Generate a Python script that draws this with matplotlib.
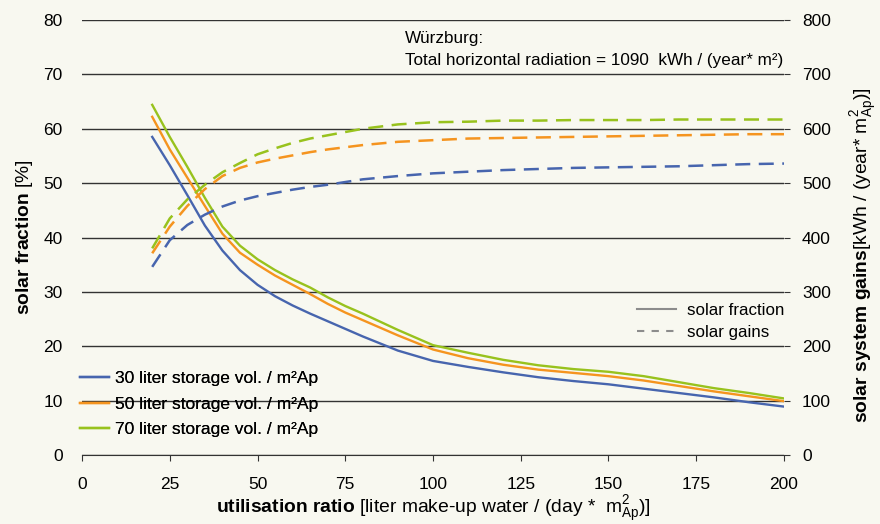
import numpy as np
import matplotlib.pyplot as plt
from matplotlib.lines import Line2D

plt.rcParams['font.family'] = ['Liberation Sans', 'DejaVu Sans']
plt.rcParams['mathtext.fontset'] = 'custom'
plt.rcParams['mathtext.rm'] = 'Liberation Sans'
plt.rcParams['mathtext.bf'] = 'Liberation Sans:bold'
plt.rcParams['mathtext.it'] = 'Liberation Sans:italic'

# utilisation ratio [l/(day m2)]
x = [20, 25, 30, 35, 40, 45, 50, 55, 60, 65, 70, 75, 80, 90, 100,
     110, 120, 130, 140, 150, 160, 170, 180, 190, 200]

# solar fraction [%]
frac_30 = [58.5, 53.3, 47.8, 42.2, 37.6, 34.0, 31.3, 29.2, 27.5, 26.0, 24.6, 23.2, 21.8, 19.2, 17.3,
           16.2, 15.2, 14.3, 13.6, 13.0, 12.2, 11.4, 10.6, 9.7, 8.9]
frac_50 = [62.2, 56.2, 51.0, 45.8, 40.7, 37.2, 35.0, 33.0, 31.3, 29.6, 27.8, 26.2, 24.8, 22.0, 19.4,
           17.8, 16.6, 15.7, 15.1, 14.5, 13.7, 12.7, 11.7, 10.8, 9.9]
frac_70 = [64.4, 58.5, 53.0, 47.3, 42.0, 38.5, 36.0, 34.0, 32.3, 30.8, 29.0, 27.4, 26.0, 23.0, 20.2,
           18.8, 17.5, 16.5, 15.8, 15.3, 14.5, 13.4, 12.3, 11.4, 10.4]

# solar system gains [kWh/(year m2)]
gain_30 = [346, 395, 423, 442, 457, 468, 476, 482, 488, 493, 497, 502, 507, 513, 518,
           521, 524, 526, 528, 529, 530, 531, 533, 535, 536]
gain_50 = [371, 420, 458, 489, 513, 528, 538, 545, 551, 557, 562, 566, 570, 576, 579,
           582, 583, 584, 585, 586, 587, 588, 589, 590, 590]
gain_70 = [380, 435, 470, 497, 520, 537, 553, 564, 574, 582, 588, 594, 600, 608, 612,
           613, 615, 615, 616, 616, 616, 617, 617, 617, 617]

labels = ['30 liter storage vol. / m²Ap', '50 liter storage vol. / m²Ap', '70 liter storage vol. / m²Ap']
colors = ['#4765ae', '#f5941f', '#98c21d']
bg = '#f8f8f0'

fig = plt.figure(figsize=(8.8, 5.24), dpi=100, facecolor=bg)
ax = fig.add_axes([0.0932, 0.1317, 0.7977, 0.8301])
ax.set_facecolor(bg)
ax2 = ax.twinx()
ax2.patch.set_visible(False)

fs = 12.5
lfs = 13.9
for i, (f, g) in enumerate(zip([frac_30, frac_50, frac_70], [gain_30, gain_50, gain_70])):
    ax.plot(x, f, color=colors[i], lw=1.7, label=labels[i], zorder=3)
    ax2.plot(x, g, color=colors[i], lw=1.8, dashes=(6.0, 3.4), zorder=3)

ax.set_xlim(0, 200)
ax.set_ylim(0, 80)
ax2.set_ylim(0, 800)
ax.set_xticks(np.arange(0, 201, 25))
ax.set_yticks(np.arange(0, 81, 10))
ax2.set_yticks(np.arange(0, 801, 100))
ax.grid(axis='y', color='#333333', lw=1.0, zorder=1)
ax.set_axisbelow(True)

for a in (ax, ax2):
    for s in ('top', 'left', 'right'):
        a.spines[s].set_visible(False)
ax2.spines['bottom'].set_visible(False)
ax.spines['bottom'].set_color('#333333')

ax.tick_params(axis='y', length=0, pad=14, labelsize=fs)
ax.tick_params(axis='x', length=4, direction='out', pad=12, labelsize=fs, color='#333333')
ax2.tick_params(axis='y', length=4, direction='out', pad=9, labelsize=fs, color='#333333')

ax.set_xlabel(r'$\mathbf{utilisation\ ratio}$ [liter make-up water / (day *  m$^{2}_{\mathrm{Ap}}$)]',
              fontsize=lfs, labelpad=1.5)
ax.set_ylabel(r'$\mathbf{solar\ fraction}$ [%]', fontsize=lfs, labelpad=6)
ax2.set_ylabel(r'$\mathbf{solar\ system\ gains}$[kWh / (year* m$^{2}_{\mathrm{Ap}}$)]',
               fontsize=lfs)
ax2.yaxis.set_label_coords(1.093, 0.46)

ax.text(0.46, 0.958, 'Würzburg:', transform=ax.transAxes, fontsize=12.3, va='center')
ax.text(0.46, 0.907, 'Total horizontal radiation = 1090  kWh / (year* m²)', transform=ax.transAxes,
        fontsize=12.3, va='center')

leg1 = ax.legend(loc='upper left', bbox_to_anchor=(-0.003, 0.193), frameon=False, fontsize=fs,
                 handlelength=1.7, handletextpad=0.3, labelspacing=0.6, borderaxespad=0, borderpad=0)
ax.add_artist(leg1)

h = [Line2D([], [], color='#8c8c8c', lw=1.5),
     Line2D([], [], color='#8c8c8c', lw=1.5, dashes=(3.5, 3.5))]
ax2.legend(h, ['solar fraction', 'solar gains'], loc='upper right', bbox_to_anchor=(1.0, 0.349),
           frameon=False, fontsize=12.2, handlelength=2.3, handletextpad=0.65,
           labelspacing=0.4, borderaxespad=0, borderpad=0)

fig.savefig('out.png', dpi=100, facecolor=bg)
